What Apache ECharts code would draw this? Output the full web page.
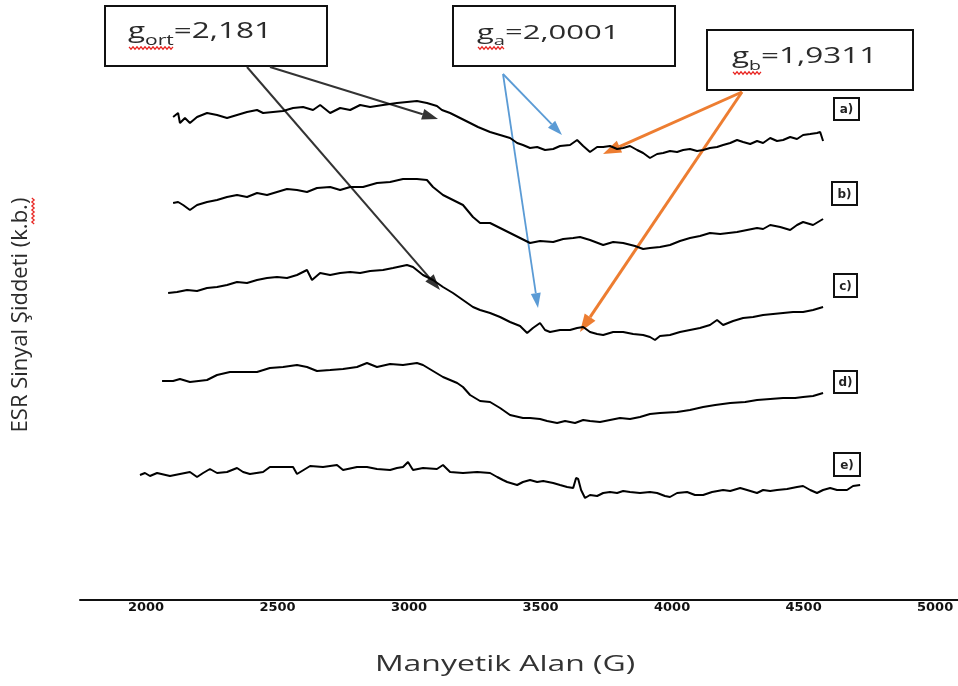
<!DOCTYPE html>
<html>
<head>
<meta charset="utf-8">
<script src="https://cdn.jsdelivr.net/npm/echarts@6/dist/echarts.min.js"></script>
<style>
  html, body { margin: 0; padding: 0; background: #fff; }
  #chart { width: 958px; height: 686px; }
</style>
</head>
<body>
<div id="chart"></div>
<script>
// Magnetic field tick positions (G)
const fieldTicks = [2000, 2500, 3000, 3500, 4000, 4500, 5000];

// Sample labels, top to bottom
const sampleNames = ['a)', 'b)', 'c)', 'd)', 'e)'];

// ESR spectra: [field (G), signal intensity (a.u., stacked with offsets)]
const specA = [
  [2103,483],[2122,487],[2129,477],[2148,482],[2167,477],[2194,483],[2232,487],[2270,485],
  [2308,482],[2346,485],[2384,488],[2422,490],[2445,487],[2483,488],[2521,489],[2559,492],
  [2597,493],[2635,490],[2662,495],[2700,487],[2738,492],[2776,490],[2814,495],[2852,493],
  [2901,495],[2954,497],[2992,498],[3030,499],[3068,497],[3106,494],[3125,490],[3156,487],
  [3194,482],[3232,477],[3262,473],[3308,468],[3346,465],[3384,462],[3411,457],[3433,455],
  [3460,452],[3487,453],[3517,450],[3548,451],[3574,454],[3612,455],[3639,460],[3662,454],
  [3688,448],[3715,453],[3738,453],[3764,454],[3791,451],[3814,452],[3840,454],[3867,450],
  [3890,447],[3916,442],[3943,446],[3966,447],[3992,449],[4019,448],[4042,450],[4068,451],
  [4095,449],[4118,450],[4144,452],[4171,453],[4194,455],[4221,457],[4247,460],[4270,458],
  [4297,456],[4323,459],[4346,457],[4373,462],[4399,459],[4422,460],[4449,463],[4475,461],
  [4498,465],[4525,466],[4551,467],[4563,468],[4574,459]
];
const specB = [
  [2103,397],[2122,398],[2141,395],[2167,390],[2194,395],[2232,398],[2270,400],[2308,403],
  [2346,405],[2384,403],[2422,407],[2460,405],[2498,408],[2536,411],[2574,410],[2612,408],
  [2650,412],[2700,413],[2738,410],[2776,413],[2825,413],[2878,417],[2928,418],[2977,421],
  [3030,421],[3068,420],[3091,413],[3129,405],[3167,400],[3205,395],[3243,383],[3270,377],
  [3308,377],[3346,372],[3384,367],[3422,362],[3460,357],[3498,359],[3548,358],[3586,361],
  [3624,362],[3650,363],[3688,360],[3738,355],[3776,358],[3814,357],[3859,354],[3890,351],
  [3916,352],[3954,353],[3992,355],[4030,359],[4068,362],[4106,364],[4144,367],[4183,366],
  [4247,368],[4285,370],[4323,372],[4346,371],[4373,375],[4411,373],[4449,370],[4475,375],
  [4498,378],[4536,375],[4574,381]
];
const specC = [
  [2084,307],[2118,308],[2156,310],[2194,309],[2232,312],[2270,313],[2308,315],[2346,318],
  [2384,317],[2422,320],[2460,322],[2498,323],[2536,322],[2574,325],[2612,330],[2631,320],
  [2662,327],[2700,325],[2738,327],[2776,328],[2814,327],[2852,329],[2901,330],[2939,332],
  [2992,335],[3015,333],[3053,325],[3091,320],[3129,313],[3167,307],[3205,300],[3243,293],
  [3270,290],[3308,287],[3346,283],[3384,278],[3422,274],[3449,267],[3471,272],[3498,277],
  [3517,270],[3536,268],[3574,270],[3612,270],[3639,272],[3662,273],[3688,268],[3715,266],
  [3738,265],[3776,268],[3814,268],[3852,266],[3890,265],[3916,263],[3935,260],[3954,264],
  [3992,265],[4030,268],[4068,270],[4106,272],[4144,275],[4171,280],[4194,275],[4232,279],
  [4270,282],[4308,283],[4346,285],[4384,286],[4422,287],[4460,288],[4498,288],[4536,290],
  [4574,293]
];
const specD = [
  [2061,219],[2103,219],[2129,221],[2167,218],[2232,220],[2270,225],[2319,228],[2369,228],
  [2422,228],[2471,232],[2521,233],[2574,235],[2612,233],[2650,229],[2700,230],[2749,231],
  [2802,233],[2840,237],[2878,233],[2928,236],[2977,235],[3030,237],[3053,235],[3091,229],
  [3129,223],[3183,217],[3205,213],[3232,205],[3270,199],[3308,198],[3346,192],[3384,185],
  [3433,182],[3460,182],[3498,181],[3525,179],[3563,177],[3593,179],[3631,177],[3662,180],
  [3688,179],[3726,178],[3764,180],[3802,182],[3840,181],[3878,183],[3916,186],[3954,187],
  [4019,188],[4068,190],[4118,193],[4164,195],[4221,197],[4278,198],[4323,200],[4373,201],
  [4422,202],[4468,202],[4498,203],[4536,204],[4574,207]
];
const specE = [
  [1977,125],[1996,127],[2015,124],[2042,127],[2091,124],[2129,126],[2167,128],[2194,123],
  [2217,127],[2243,131],[2270,127],[2308,128],[2346,132],[2369,128],[2395,126],[2445,128],
  [2471,133],[2521,133],[2559,133],[2574,126],[2624,134],[2673,133],[2726,135],[2749,130],
  [2802,133],[2840,133],[2878,131],[2928,130],[2954,132],[2977,133],[2996,138],[3015,130],
  [3053,132],[3106,131],[3129,135],[3156,128],[3205,127],[3259,128],[3308,127],[3335,123],
  [3357,120],[3373,118],[3411,115],[3433,118],[3460,120],[3487,118],[3510,119],[3548,117],
  [3574,115],[3601,113],[3624,112],[3635,122],[3643,121],[3654,110],[3669,102],[3688,105],
  [3715,104],[3738,107],[3764,108],[3791,107],[3814,109],[3840,108],[3878,107],[3916,108],
  [3943,107],[3973,104],[3992,103],[4019,107],[4057,108],[4087,105],[4118,105],[4152,108],
  [4194,110],[4221,109],[4259,112],[4285,110],[4323,107],[4346,110],[4373,109],[4399,110],
  [4437,111],[4475,113],[4498,114],[4525,110],[4551,107],[4574,110],[4601,112],[4627,110],
  [4665,110],[4688,114],[4715,115]
];
const spectra = [specA, specB, specC, specD, specE];

// g-factor annotations
const gLabels = [
  { sub: 'ort', value: '=2,181' },
  { sub: 'a', value: '=2,0001' },
  { sub: 'b', value: '=1,9311' }
];

const FONT = '"Open Sans", "Noto Sans", sans-serif';
const measureCtx = document.createElement('canvas').getContext('2d');
function textWidth(str, size, weight) {
  measureCtx.font = (weight || 'normal') + ' ' + size + 'px ' + FONT;
  return measureCtx.measureText(str).width;
}

// Red wavy proofing underline
function squiggle(x1, x2, y, vertical) {
  const pts = [];
  let k = 0;
  for (let t = 0; t <= Math.abs(x2 - x1); t += 2, k++) {
    const off = (k % 2 === 0) ? -1.2 : 1.2;
    pts.push(vertical ? [y + off, x1 + t] : [x1 + t, y + off]);
  }
  return { type: 'polyline', silent: true, shape: { points: pts },
           style: { stroke: '#e8231f', lineWidth: 1.2, fill: null } };
}

// g-label inside a bordered box: "g" + subscript + value, stretched horizontally
function gBox(box, label, tx, ty, size, subSize, sx) {
  const w1 = textWidth('g', size);
  const w2 = textWidth(label.sub, subSize);
  const subWidthPx = (w1 + w2) * sx;
  return [
    { type: 'rect', shape: { x: box[0], y: box[1], width: box[2], height: box[3] },
      style: { fill: '#fff', stroke: '#111', lineWidth: 2 } },
    { type: 'group', x: tx, y: ty, scaleX: sx, children: [
      { type: 'text', x: 0, y: 0, style: { text: 'g', fontFamily: FONT, fontSize: size, fill: '#2b2b2b', verticalAlign: 'bottom' } },
      { type: 'text', x: w1, y: size * 0.22, style: { text: label.sub, fontFamily: FONT, fontSize: subSize, fill: '#2b2b2b', verticalAlign: 'bottom' } },
      { type: 'text', x: w1 + w2, y: 0, style: { text: label.value, fontFamily: FONT, fontSize: size, fill: '#2b2b2b', verticalAlign: 'bottom' } }
    ] },
    squiggle(tx + 1, tx + subWidthPx, ty + 5)
  ];
}

// Straight arrow with a filled triangular head
function arrow(x1, y1, x2, y2, color, width, headLen, headW) {
  const dx = x2 - x1, dy = y2 - y1;
  const len = Math.sqrt(dx * dx + dy * dy);
  const ux = dx / len, uy = dy / len;
  const bx = x2 - ux * headLen, by = y2 - uy * headLen;
  const px = -uy * headW / 2, py = ux * headW / 2;
  return [
    { type: 'line', silent: true, shape: { x1: x1, y1: y1, x2: bx, y2: by },
      style: { stroke: color, lineWidth: width } },
    { type: 'polygon', silent: true, shape: { points: [[x2, y2], [bx + px, by + py], [bx - px, by - py]] },
      style: { fill: color } }
  ];
}

// Sample tag boxes at the right edge
const tagBoxes = [[834, 98, 25, 22], [832, 182, 25, 23], [834, 274, 23, 23], [834, 371, 23, 22], [834, 453, 26, 23]];
function tag(name, b) {
  return [
    { type: 'rect', shape: { x: b[0], y: b[1], width: b[2], height: b[3] },
      style: { fill: '#fff', stroke: '#111', lineWidth: 2 } },
    { type: 'text', x: b[0] + b[2] / 2, y: b[1] + b[3] / 2 + 1,
      style: { text: name, fontFamily: '"DejaVu Sans", sans-serif', fontWeight: 'bold', fontSize: 12,
               fill: '#222', align: 'center', verticalAlign: 'middle' } }
  ];
}

const graphics = [];
graphics.push(...gBox([105, 6, 222, 60], gLabels[0], 128, 43, 21, 14, 1.5));
graphics.push(...gBox([453, 6, 222, 60], gLabels[1], 477, 43, 20, 13, 1.55));
graphics.push(...gBox([707, 30, 206, 60], gLabels[2], 732, 68, 21, 13, 1.5));

// g_ort arrows (dark), g_a arrows (blue), g_b arrows (orange)
graphics.push(...arrow(270, 67, 438, 119, '#333', 2, 16, 11));
graphics.push(...arrow(247, 67, 440, 290, '#333', 2, 16, 11));
graphics.push(...arrow(503, 74, 562, 135, '#5b9bd5', 1.8, 15, 10));
graphics.push(...arrow(503, 74, 538, 308, '#5b9bd5', 1.8, 15, 10));
graphics.push(...arrow(742, 92, 603, 154, '#ed7d31', 3, 18, 13));
graphics.push(...arrow(742, 92, 580, 332, '#ed7d31', 3, 18, 13));

sampleNames.forEach((n, i) => graphics.push(...tag(n, tagBoxes[i])));

// Axis titles
graphics.push({
  type: 'text', x: 505, y: 665, scaleX: 1.45, originX: 0,
  style: { text: 'Manyetik Alan (G)', fontFamily: FONT, fontSize: 22, fill: '#333',
           align: 'center', verticalAlign: 'middle' }
});
graphics.push({
  type: 'text', x: 21, y: 315, rotation: Math.PI / 2,
  style: { text: 'ESR Sinyal Şiddeti (k.b.)', fontFamily: FONT, fontSize: 22, fill: '#2b2b2b',
           align: 'center', verticalAlign: 'middle' }
});
graphics.push(squiggle(198, 224, 33, true));

const chart = echarts.init(document.getElementById('chart'), null, { renderer: 'canvas' });
chart.setOption({
  animation: false,
  backgroundColor: '#fff',
  grid: { left: 80, right: 0, top: 0, bottom: 86 },
  xAxis: {
    type: 'value', min: 1749, max: 5087,
    axisLine: { show: true, lineStyle: { color: '#111', width: 2 } },
    axisTick: { show: false },
    splitLine: { show: false },
    axisLabel: {
      customValues: fieldTicks,
      formatter: v => String(v),
      margin: 1,
      fontFamily: '"DejaVu Sans", sans-serif', fontWeight: 'bold', fontSize: 13, color: '#111'
    }
  },
  yAxis: { type: 'value', min: 0, max: 600, show: false },
  series: spectra.map((d, i) => ({
    name: sampleNames[i], type: 'line', data: d,
    showSymbol: false, silent: true,
    lineStyle: { color: '#000', width: 2 }
  })),
  graphic: graphics
});
</script>
</body>
</html>
